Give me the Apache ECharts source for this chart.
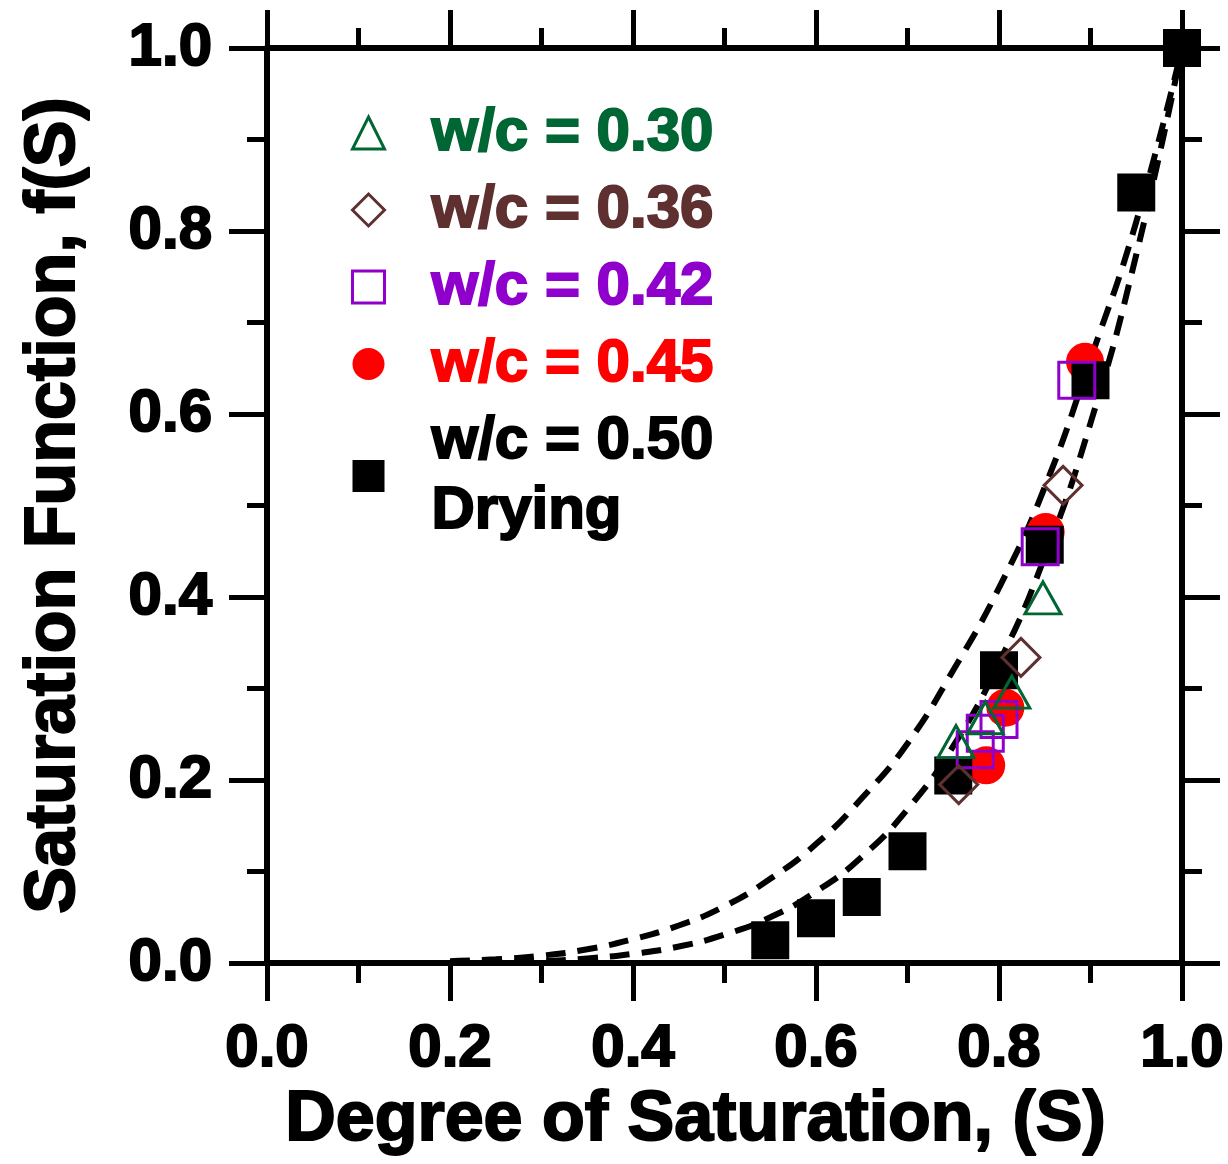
<!DOCTYPE html>
<html>
<head>
<meta charset="utf-8">
<script src="https://cdn.jsdelivr.net/npm/echarts@6/dist/echarts.min.js"></script>
<style>
html,body{margin:0;padding:0;background:#fff;}
#chart{width:1228px;height:1164px;}
</style>
</head>
<body>
<div id="chart"></div>
<script>
// ---- data ----
const xTickLabels = ['0.0','0.2','0.4','0.6','0.8','1.0'];
const yTickLabels = ['0.0','0.2','0.4','0.6','0.8','1.0'];

const seriesNames = ['w/c = 0.30','w/c = 0.36','w/c = 0.42','w/c = 0.45','w/c = 0.50\nDrying'];

const s030 = [0.753,0.785,0.814,0.848];
const f030 = [0.242,0.268,0.296,0.399];

const s036 = [0.756,0.824,0.870];
const f036 = [0.195,0.334,0.522];

const s042 = [0.774,0.785,0.800,0.845,0.885];
const f042 = [0.233,0.251,0.266,0.455,0.637];

const s045 = [0.786,0.807,0.851,0.894];
const f045 = [0.216,0.279,0.471,0.657];

const s050 = [0.55,0.60,0.65,0.70,0.75,0.80,0.85,0.90,0.95,1.00];
const f050 = [0.025,0.049,0.072,0.122,0.205,0.320,0.457,0.637,0.842,1.0];

// dashed fit curves
const sUpper = [0.20,0.25,0.30,0.35,0.40,0.45,0.50,0.55,0.60,0.65,0.70,0.75,0.80,0.85,0.90,0.95,1.00];
const fUpper = [0.002,0.004,0.008,0.015,0.026,0.041,0.062,0.092,0.130,0.180,0.240,0.320,0.410,0.520,0.660,0.810,1.000];
const sLower = [0.20,0.25,0.30,0.35,0.40,0.45,0.50,0.55,0.60,0.65,0.70,0.75,0.80,0.85,0.90,0.95,1.00];
const fLower = [0.000,0.001,0.002,0.005,0.010,0.018,0.031,0.050,0.078,0.116,0.168,0.237,0.328,0.444,0.590,0.774,1.000];

// ---- build ----
const pairs = (xs, ys) => xs.map((x, i) => [x, ys[i]]);
const FONT = '"Liberation Sans", Arial, sans-serif';
const C_GREEN = '#006633', C_BROWN = '#5e3030', C_PURPLE = '#9000cc', C_RED = '#ff0000', C_BLACK = '#000000';

const tickStyle = {
  axisLine: {show: true, onZero: false, lineStyle: {color: '#000', width: 6}},
  axisTick: {show: true, inside: false, length: 38, lineStyle: {color: '#000', width: 5}},
  minorTick: {show: true, splitNumber: 2, length: 20, lineStyle: {color: '#000', width: 5}},
  splitLine: {show: false},
  minorSplitLine: {show: false}
};
const labelStyle = {
  fontSize: 60, fontWeight: 'bold', fontFamily: FONT, color: '#000',
  textBorderColor: '#000', textBorderWidth: 2
};

const chart = echarts.init(document.getElementById('chart'), null, {renderer: 'canvas'});
const hollow = (c) => ({color: 'rgba(0,0,0,0)', borderColor: c, borderWidth: 3, opacity: 1});
const legendText = (c) => ({color: c, textBorderColor: c, textBorderWidth: 2, padding: [0, 0, 0, 42]});

const option = {
  animation: false,
  backgroundColor: '#fff',
  grid: {left: 267, right: 46, top: 48, bottom: 201, containLabel: false},
  xAxis: [
    Object.assign({
      type: 'value', min: 0, max: 1, interval: 0.2, position: 'bottom',
      name: 'Degree of Saturation, (S)', nameLocation: 'middle', nameGap: 121,
      nameTextStyle: {fontSize: 70, fontWeight: 'bold', fontFamily: FONT, color: '#000',
        textBorderColor: '#000', textBorderWidth: 2, padding: [0, 58, 0, 0]},
      axisLabel: Object.assign({margin: 56, showMinLabel: true, showMaxLabel: true,
        formatter: (v) => xTickLabels[Math.round(v / 0.2)]}, labelStyle)
    }, tickStyle),
    Object.assign({
      type: 'value', min: 0, max: 1, interval: 0.2, position: 'top',
      axisLabel: {show: false}
    }, tickStyle)
  ],
  yAxis: [
    Object.assign({
      type: 'value', min: 0, max: 1, interval: 0.2, position: 'left',
      name: 'Saturation Function, f(S)', nameLocation: 'middle', nameGap: 177,
      nameTextStyle: {fontSize: 70, fontWeight: 'bold', fontFamily: FONT, color: '#000',
        textBorderColor: '#000', textBorderWidth: 2},
      axisLabel: Object.assign({margin: 55, showMinLabel: true, showMaxLabel: true,
        formatter: (v) => yTickLabels[Math.round(v / 0.2)]}, labelStyle)
    }, tickStyle),
    Object.assign({
      type: 'value', min: 0, max: 1, interval: 0.2, position: 'right',
      axisLabel: {show: false}
    }, tickStyle)
  ],
  legend: {
    orient: 'vertical', left: 351, top: 98, padding: 0, itemGap: 7,
    itemWidth: 32, itemHeight: 32, selectedMode: false,
    textStyle: {fontSize: 60, fontWeight: 'bold', fontFamily: FONT, lineHeight: 70},
    data: [
      {name: seriesNames[0], icon: 'triangle', itemStyle: hollow(C_GREEN), textStyle: legendText(C_GREEN)},
      {name: seriesNames[1], icon: 'diamond', itemStyle: hollow(C_BROWN), textStyle: legendText(C_BROWN)},
      {name: seriesNames[2], icon: 'rect', itemStyle: hollow(C_PURPLE), textStyle: legendText(C_PURPLE)},
      {name: seriesNames[3], icon: 'circle', itemStyle: {color: C_RED, borderWidth: 0, opacity: 1}, textStyle: legendText(C_RED)},
      {name: seriesNames[4], icon: 'rect', itemStyle: {color: C_BLACK, borderWidth: 0, opacity: 1}, textStyle: legendText(C_BLACK)}
    ]
  },
  series: [
    {type: 'line', name: 'fit upper', data: pairs(sUpper, fUpper), smooth: true, showSymbol: false,
      lineStyle: {color: '#000', width: 6, type: [20, 12]}, z: 1, silent: true},
    {type: 'line', name: 'fit lower', data: pairs(sLower, fLower), smooth: true, showSymbol: false,
      lineStyle: {color: '#000', width: 6, type: [20, 12]}, z: 1, silent: true},
    {type: 'scatter', name: seriesNames[3], data: pairs(s045, f045), symbol: 'circle', symbolSize: 38,
      itemStyle: {color: C_RED, opacity: 1}, z: 2},
    {type: 'scatter', name: seriesNames[4], data: pairs(s050, f050), symbol: 'rect', symbolSize: 38,
      itemStyle: {color: C_BLACK, opacity: 1}, z: 3},
    {type: 'scatter', name: seriesNames[2], data: pairs(s042, f042), symbol: 'rect', symbolSize: 36,
      itemStyle: hollow(C_PURPLE), z: 4},
    {type: 'scatter', name: seriesNames[0], data: pairs(s030, f030), symbol: 'triangle', symbolSize: [36, 32],
      itemStyle: hollow(C_GREEN), z: 5},
    {type: 'scatter', name: seriesNames[1], data: pairs(s036, f036), symbol: 'diamond', symbolSize: 38,
      itemStyle: hollow(C_BROWN), z: 6}
  ]
};
chart.setOption(option);
</script>
</body>
</html>
